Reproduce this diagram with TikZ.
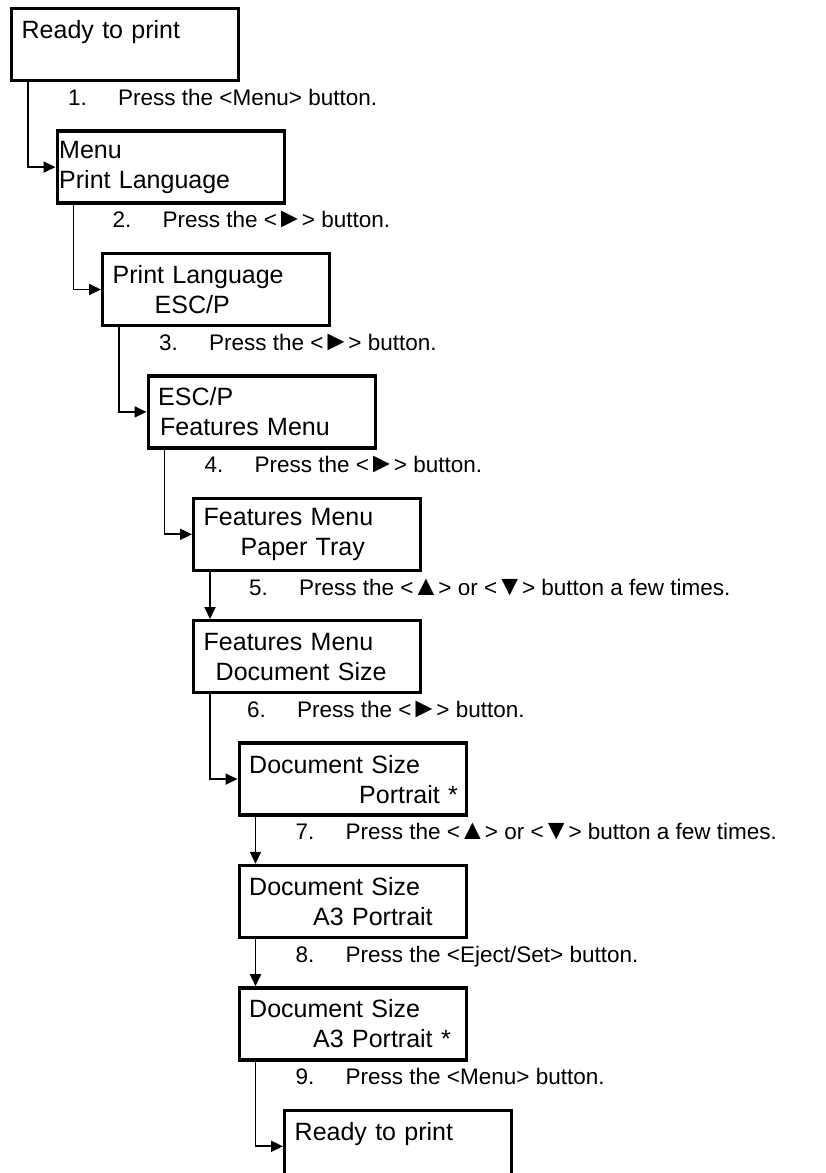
\documentclass[tikz,border=0pt]{standalone}
\usepackage{fontspec}
\setmainfont{Liberation Sans}
\usetikzlibrary{positioning,arrows.meta,calc}

\newcommand{\steptext}[2]{\makebox[50pt][l]{#1}#2}
\newcommand{\keyglyph}[1]{\kern-1.5pt\scalebox{1.25}{#1}\kern-1.5pt}

\begin{document}
\begin{tikzpicture}[
    screen/.style={draw, line width=3.4pt, minimum width=227pt,
        minimum height=72pt, text width=207pt, inner xsep=10pt,
        align=left, font=\fontsize{25}{30}\selectfont},
    nextscreen/.style={below=47pt of #1.south west, anchor=north west,
        xshift=45.5pt},
    samescreen/.style={below=47pt of #1.south west, anchor=north west},
    flow/.style={-{Triangle[length=12pt,width=11pt]}, line width=1.8pt},
    steplbl/.style={anchor=base west, inner sep=0pt,
        font=\fontsize{22.5}{27}\selectfont},
]
\useasboundingbox (0,0) rectangle (825pt,-1173pt);

% Panel screens
\node[screen, anchor=north west] (rdy) at (10pt,-7pt) {Ready to print\\~};
\node[screen, nextscreen=rdy] (menu) {\hspace*{-8pt}Menu\\\hspace*{-8pt}Print Language};
\node[screen, nextscreen=menu] (lang) {Print Language\\\hspace*{42pt}ESC/P};
\node[screen, nextscreen=lang] (escp) {ESC/P\\\hspace*{2pt}Features Menu};
\node[screen, nextscreen=escp] (tray) {Features Menu\\\hspace*{37pt}Paper Tray};
\node[screen, samescreen=tray] (docsz) {Features Menu\\\hspace*{12pt}Document Size};
\node[screen, nextscreen=docsz] (portr) {Document Size\\\hspace*{110pt}\mbox{Portrait *}};
\node[screen, samescreen=portr] (athree) {Document Size\\\hspace*{64pt}\mbox{A3 Portrait}};
\node[screen, samescreen=athree] (aset) {Document Size\\\hspace*{64pt}\mbox{A3 Portrait *}};
\node[screen, nextscreen=aset] (done) {Ready to print\\~};

% Step texts
\node[steplbl] (s1) at ([xshift=58pt,yshift=-23pt]rdy.south west) {\steptext{1.}{Press the <Menu> button.}};
\node[steplbl] (s2) at ([xshift=57pt,yshift=-23pt]menu.south west) {\steptext{2.}{Press the <\keyglyph{►}> button.}};
\node[steplbl] (s3) at ([xshift=58pt,yshift=-23pt]lang.south west) {\steptext{3.}{Press the <\keyglyph{►}> button.}};
\node[steplbl] (s4) at ([xshift=58pt,yshift=-23pt]escp.south west) {\steptext{4.}{Press the <\keyglyph{►}> button.}};
\node[steplbl] (s5) at ([xshift=57pt,yshift=-23pt]tray.south west) {\steptext{5.}{Press the <\keyglyph{▲}> or <\keyglyph{▼}> button a few times.}};
\node[steplbl] (s6) at ([xshift=55pt,yshift=-23pt]docsz.south west) {\steptext{6.}{Press the <\keyglyph{►}> button.}};
\node[steplbl] (s7) at ([xshift=58pt,yshift=-23pt]portr.south west) {\steptext{7.}{Press the <\keyglyph{▲}> or <\keyglyph{▼}> button a few times.}};
\node[steplbl] (s8) at ([xshift=58pt,yshift=-23pt]athree.south west) {\steptext{8.}{Press the <Eject/Set> button.}};
\node[steplbl] (s9) at ([xshift=58pt,yshift=-23pt]aset.south west) {\steptext{9.}{Press the <Menu> button.}};

% Connectors
\draw[flow] ([xshift=18pt]rdy.south west) |- (menu.west);
\draw[flow] ([xshift=18pt]menu.south west) |- (lang.west);
\draw[flow] ([xshift=18pt]lang.south west) |- (escp.west);
\draw[flow] ([xshift=18pt]escp.south west) |- (tray.west);
\draw[flow] ([xshift=18pt]tray.south west) -- ([xshift=18pt]docsz.north west);
\draw[flow] ([xshift=18pt]docsz.south west) |- (portr.west);
\draw[flow] ([xshift=18pt]portr.south west) -- ([xshift=18pt]athree.north west);
\draw[flow] ([xshift=18pt]athree.south west) -- ([xshift=18pt]aset.north west);
\draw[flow] ([xshift=18pt]aset.south west) |- (done.west);

\end{tikzpicture}
\end{document}
